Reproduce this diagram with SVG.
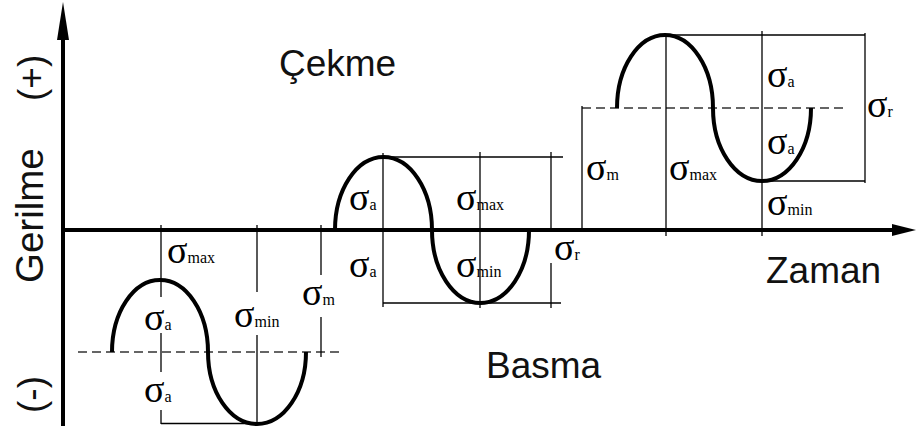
<svg xmlns="http://www.w3.org/2000/svg" width="917" height="430" viewBox="0 0 917 430">
<style>
.ax{stroke:#000;stroke-width:4;fill:none}
.ln{stroke:#000;stroke-width:1.3;fill:none}
.dash{stroke:#333;stroke-width:1.6;stroke-dasharray:9 5;fill:none}
.wave{stroke:#000;stroke-width:4;fill:none}
.lbl{font-family:"Liberation Sans",Arial,sans-serif;font-size:37px;fill:#111}
.s{font-family:"Liberation Serif","Times New Roman",serif;font-size:38px;fill:#000}
.sub{font-size:16px}
</style>
<rect width="917" height="430" fill="#fff"/>
<g id="axes">
<line class="ax" x1="63" y1="38" x2="63" y2="426"/>
<polygon points="63,2 57,40 69,40" fill="#000"/>
<line class="ax" x1="61" y1="230" x2="894" y2="230"/>
<polygon points="916,230 892,224 892,236" fill="#000"/>
</g>
<g id="axis-labels">
<text class="lbl" style="font-size:38.5px" transform="translate(43,283) rotate(-90)">Gerilme</text>
<text class="lbl" transform="translate(44,101) rotate(-90)">(+)</text>
<text class="lbl" transform="translate(44,413) rotate(-90)">(-)</text>
<text class="lbl" x="279" y="76">Çekme</text>
<text class="lbl" x="486" y="378">Basma</text>
<text class="lbl" x="766" y="283">Zaman</text>
</g>
<g id="connectors">
<line class="dash" x1="78" y1="352" x2="340" y2="352"/>
<line class="ln" x1="161" y1="225" x2="161" y2="297"/>
<line class="ln" x1="161" y1="333" x2="161" y2="372"/>
<line class="ln" x1="161" y1="410" x2="161" y2="424"/>
<line class="ln" x1="257" y1="225" x2="257" y2="292"/>
<line class="ln" x1="257" y1="335" x2="257" y2="424"/>
<line class="ln" x1="161" y1="423.5" x2="257" y2="423.5"/>
<line class="ln" x1="321" y1="225" x2="321" y2="275"/>
<line class="ln" x1="321" y1="317" x2="321" y2="357"/>
<line class="ln" x1="383" y1="157" x2="563" y2="157"/>
<line class="ln" x1="383" y1="303" x2="561" y2="303"/>
<line class="ln" x1="383" y1="153" x2="383" y2="307"/>
<line class="ln" x1="480" y1="152" x2="480" y2="308"/>
<line class="ln" x1="551" y1="152" x2="551" y2="232"/>
<line class="ln" x1="551" y1="263" x2="551" y2="308"/>
<line class="dash" x1="582" y1="108" x2="845" y2="108"/>
<line class="ln" x1="582" y1="106" x2="582" y2="230"/>
<line class="ln" x1="666" y1="35" x2="666" y2="236"/>
<line class="ln" x1="762" y1="31" x2="762" y2="236"/>
<line class="ln" x1="666" y1="35" x2="865" y2="35"/>
<line class="ln" x1="762" y1="181" x2="865" y2="181"/>
<line class="ln" x1="865" y1="33" x2="865" y2="183"/>
</g>
<g id="waves">
<path id="wave1" class="wave" d="M112,352 A48,72 0 0 1 208,352 A49,72 0 0 0 306,352"/>
<path id="wave2" class="wave" d="M335,230 A48.5,73 0 0 1 432,230 A48.5,73 0 0 0 529,230"/>
<path id="wave3" class="wave" d="M617,108 A48,73 0 0 1 713,108 A49,73 0 0 0 811,108"/>
</g>
<g id="labels-cycle1">
<text class="s" x="167" y="263">σ<tspan class="sub">max</tspan></text>
<text class="s" x="144" y="330">σ<tspan class="sub">a</tspan></text>
<text class="s" x="144" y="402">σ<tspan class="sub">a</tspan></text>
<text class="s" x="234" y="327">σ<tspan class="sub">min</tspan></text>
<text class="s" x="302" y="305">σ<tspan class="sub">m</tspan></text>
</g>
<g id="labels-cycle2">
<text class="s" x="349" y="210">σ<tspan class="sub">a</tspan></text>
<text class="s" x="456" y="210">σ<tspan class="sub">max</tspan></text>
<text class="s" x="349" y="277">σ<tspan class="sub">a</tspan></text>
<text class="s" x="456" y="277">σ<tspan class="sub">min</tspan></text>
<text class="s" x="554" y="260">σ<tspan class="sub">r</tspan></text>
</g>
<g id="labels-cycle3">
<text class="s" x="586" y="180">σ<tspan class="sub">m</tspan></text>
<text class="s" x="669" y="180">σ<tspan class="sub">max</tspan></text>
<text class="s" x="767" y="87">σ<tspan class="sub">a</tspan></text>
<text class="s" x="767" y="154">σ<tspan class="sub">a</tspan></text>
<text class="s" x="767" y="215">σ<tspan class="sub">min</tspan></text>
<text class="s" x="867" y="117">σ<tspan class="sub">r</tspan></text>
</g>
</svg>
